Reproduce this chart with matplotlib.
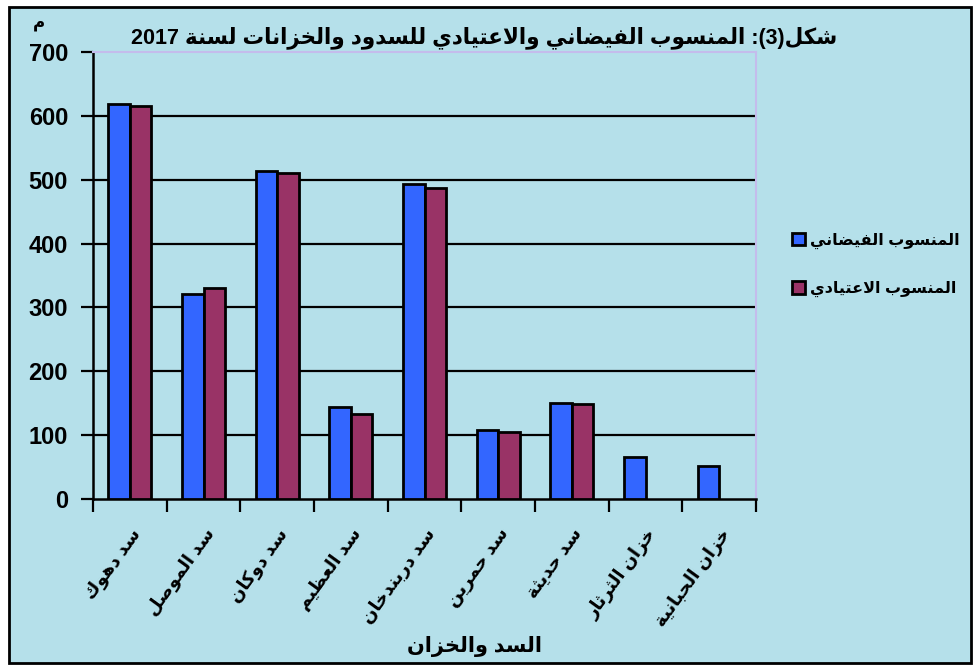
import re
import numpy as np
import matplotlib
matplotlib.use("Agg")
import matplotlib.pyplot as plt
from matplotlib.patches import Rectangle

# Data
categories = ["سد دهوك", "سد الموصل", "سد دوكان", "سد العظيم", "سد دربندخان",
              "سد حمرين", "سد حديثة", "خزان الثرثار", "خزان الحبانية"]
flood_level = [619, 321, 514, 144, 494, 108, 150, 66, 52]
normal_level = [616, 331, 510, 133, 487, 105, 148, None, None]
yticks = [0, 100, 200, 300, 400, 500, 600, 700]

title = "شكل(3): المنسوب الفيضاني والاعتيادي للسدود والخزانات لسنة 2017"
xlabel = "السد والخزان"
ylabel = "م"
legend_labels = ["المنسوب الفيضاني", "المنسوب الاعتيادي"]

# Minimal Arabic shaping: presentation forms + right-to-left order
ARABIC = {'ا': (0xFE8D, False), 'ب': (0xFE8F, True), 'ة': (0xFE93, False), 'ت': (0xFE95, True),
          'ث': (0xFE99, True), 'ج': (0xFE9D, True), 'ح': (0xFEA1, True), 'خ': (0xFEA5, True),
          'د': (0xFEA9, False), 'ذ': (0xFEAB, False), 'ر': (0xFEAD, False), 'ز': (0xFEAF, False),
          'س': (0xFEB1, True), 'ش': (0xFEB5, True), 'ص': (0xFEB9, True), 'ض': (0xFEBD, True),
          'ط': (0xFEC1, True), 'ظ': (0xFEC5, True), 'ع': (0xFEC9, True), 'غ': (0xFECD, True),
          'ف': (0xFED1, True), 'ق': (0xFED5, True), 'ك': (0xFED9, True), 'ل': (0xFEDD, True),
          'م': (0xFEE1, True), 'ن': (0xFEE5, True), 'ه': (0xFEE9, True), 'و': (0xFEED, False),
          'ى': (0xFEEF, False), 'ي': (0xFEF1, True)}


def shape(text):
    out = []
    i = 0
    n = len(text)
    while i < n:
        c = text[i]
        if c not in ARABIC:
            out.append(c)
            i += 1
            continue
        prev = text[i - 1] if i > 0 else ""
        joins_prev = prev in ARABIC and ARABIC[prev][1]
        if c == "ل" and i + 1 < n and text[i + 1] == "ا":
            out.append(chr(0xFEFC if joins_prev else 0xFEFB))
            i += 2
            continue
        base, dual = ARABIC[c]
        nxt = text[i + 1] if i + 1 < n else ""
        joins_next = dual and nxt in ARABIC
        if joins_prev and joins_next:
            cp = base + 3
        elif joins_prev:
            cp = base + 1
        elif joins_next:
            cp = base + 2
        else:
            cp = base
        out.append(chr(cp))
        i += 1
    s = "".join(out)[::-1]
    s = s.translate(str.maketrans("()", ")("))
    s = re.sub(r"[0-9]+", lambda m: m.group(0)[::-1], s)
    return s


FONT = ["Liberation Sans", "DejaVu Sans"]
plt.rcParams["font.family"] = FONT
plt.rcParams["font.weight"] = "bold"

BG = "#b5e0ea"
BLUE = "#3366ff"
MAROON = "#993366"

fig = plt.figure(figsize=(9.77, 6.66), dpi=100, facecolor="white")

# Outer frame with background
fig.patches.append(Rectangle((0.009, 0.004), 0.985, 0.985, transform=fig.transFigure,
                             facecolor=BG, edgecolor="black", linewidth=2, zorder=-10))

ax = fig.add_axes([0.0952, 0.2508, 0.6786, 0.6711])
ax.set_facecolor("none")
ax.set_zorder(1)

x = np.arange(len(categories))
w = 0.29
ax.bar(x - w / 2, flood_level, width=w, color=BLUE, edgecolor="black", linewidth=2,
       label=shape(legend_labels[0]), zorder=3)
xr = [xi for xi, v in zip(x, normal_level) if v is not None]
vr = [v for v in normal_level if v is not None]
ax.bar(np.array(xr) + w / 2, vr, width=w, color=MAROON, edgecolor="black", linewidth=2,
       label=shape(legend_labels[1]), zorder=3)

for yv in yticks[1:-1]:
    ax.axhline(yv, color="black", linewidth=1.6, zorder=1)

ax.set_xlim(-0.5, len(categories) - 0.5)
ax.set_ylim(0, 700)
ax.set_yticks(yticks)
ax.set_yticklabels([str(v) for v in yticks], fontsize=17, fontweight="bold")
ax.tick_params(axis="y", direction="out", length=9, width=1.6, pad=9)

ax.set_xticks(x)
ax.set_xticklabels([shape(c) for c in categories], rotation=54, ha="right",
                   rotation_mode="anchor", fontsize=13, fontweight="bold")
ax.tick_params(axis="x", which="major", length=0, pad=19)
ax.set_xticks(np.arange(-0.5, len(categories)), minor=True)
ax.tick_params(axis="x", which="minor", direction="out", length=9, width=1.6)

for side in ["left", "bottom"]:
    ax.spines[side].set_color("black")
    ax.spines[side].set_linewidth(1.8)
for side in ["top", "right"]:
    ax.spines[side].set_color("#c4bcec")
    ax.spines[side].set_linewidth(1.5)

fig.text(0.496, 0.944, shape(title), ha="center", va="center", fontsize=15.5, fontweight="bold")
fig.text(0.486, 0.030, shape(xlabel), ha="center", va="center", fontsize=15, fontweight="bold")
fig.text(0.040, 0.965, shape(ylabel), ha="center", va="center", fontsize=12, fontweight="bold")

fig.legend(loc="center left", bbox_to_anchor=(0.796, 0.602), frameon=False,
           handlelength=0.8, handleheight=0.8, handletextpad=0.3,
           labelspacing=2.0, prop={"weight": "bold", "size": 11.5})

fig.savefig("out.png", dpi=100, facecolor="white")
